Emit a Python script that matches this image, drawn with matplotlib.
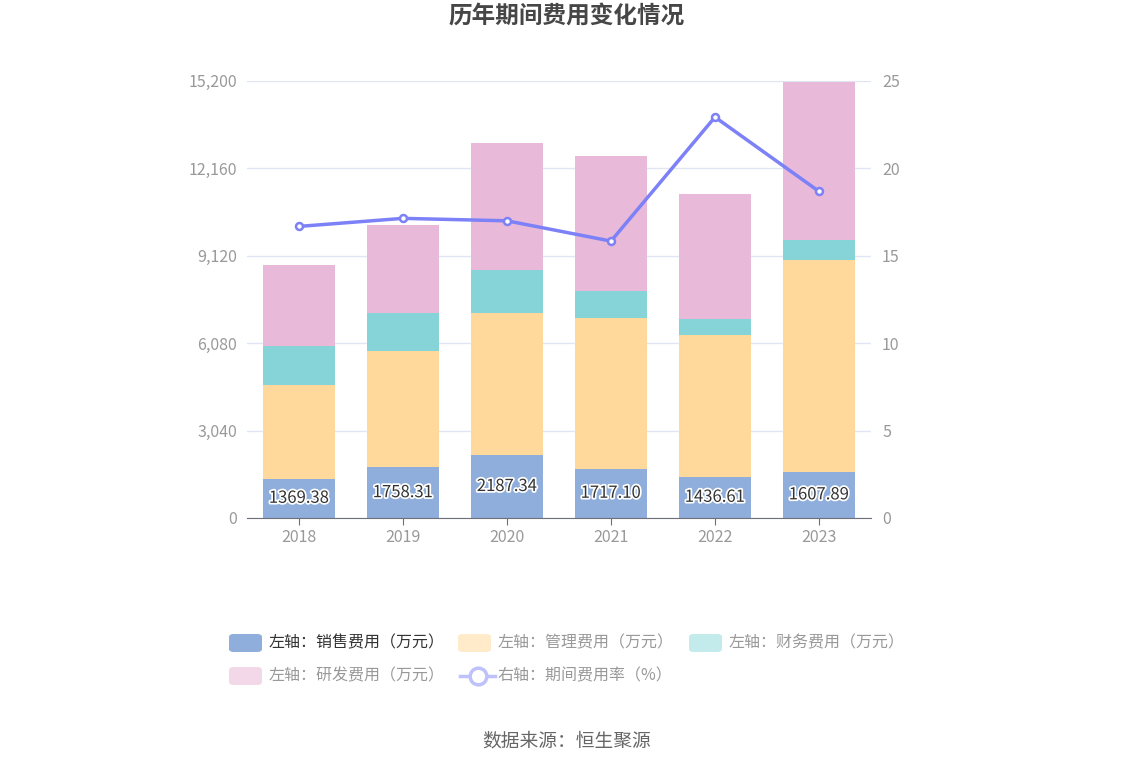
import matplotlib
matplotlib.use("Agg")
import matplotlib.pyplot as plt
import matplotlib.patheffects as pe
from matplotlib.patches import FancyBboxPatch
from matplotlib.lines import Line2D
import numpy as np

plt.rcParams['font.family'] = ['Noto Sans CJK SC', 'DejaVu Sans']

years = ['2018', '2019', '2020', '2021', '2022', '2023']
sales = [1369.38, 1758.31, 2187.34, 1717.10, 1436.61, 1607.89]
admin = [3270, 4050, 4950, 5230, 4920, 7345]
finance = [1330, 1330, 1470, 945, 570, 700]
rnd = [2825, 3055, 4440, 4700, 4340, 5500]
rate = [16.67, 17.13, 16.99, 15.83, 22.92, 18.67]

left_ticks = [0, 3040, 6080, 9120, 12160, 15200]
right_ticks = [0, 5, 10, 15, 20, 25]

c_sales = '#8FAEDC'
c_admin = '#FFD89B'
c_fin = '#87D4D8'
c_rnd = '#E8B9D9'
c_line = '#7D81F7'

fig = plt.figure(figsize=(11.34, 7.66), dpi=100)
ax = fig.add_axes([247 / 1134, 1 - 518 / 766, 624 / 1134, 437.3 / 766])

x = np.arange(len(years))
w = 0.69
b1 = np.array(sales)
b2 = b1 + np.array(admin)
b3 = b2 + np.array(finance)
ax.bar(x, sales, w, color=c_sales, zorder=2)
ax.bar(x, admin, w, bottom=b1, color=c_admin, zorder=2)
ax.bar(x, finance, w, bottom=b2, color=c_fin, zorder=2)
ax.bar(x, rnd, w, bottom=b3, color=c_rnd, zorder=2)

for i, v in enumerate(sales):
    ax.text(x[i], v / 2, f'{v:.2f}', ha='center', va='center', fontsize=12,
            color='#333333', zorder=4,
            path_effects=[pe.withStroke(linewidth=2.5, foreground='white')])

ax.set_xlim(-0.5, len(years) - 0.5)
ax.set_ylim(0, 15200)
ax.set_yticks(left_ticks)
ax.set_yticklabels([f'{t:,}' for t in left_ticks])
ax.set_xticks(x)
ax.set_xticklabels(years)
ax.grid(axis='y', color='#E0E6F1', linewidth=1, zorder=0)
for s in ['top', 'right', 'left']:
    ax.spines[s].set_visible(False)
ax.spines['bottom'].set_color('#6E7079')
ax.tick_params(axis='y', length=0, labelsize=11.5, labelcolor='#999999', pad=7)
ax.tick_params(axis='x', length=5, color='#6E7079', labelsize=11.5, labelcolor='#999999', pad=3)

ax2 = ax.twinx()
ax2.plot(x, rate, color=c_line, linewidth=2.5, marker='o', markersize=5,
         markerfacecolor='white', markeredgecolor=c_line, markeredgewidth=1.8, zorder=5)
ax2.set_ylim(0, 25)
ax2.set_yticks(right_ticks)
for s in ['top', 'right', 'left', 'bottom']:
    ax2.spines[s].set_visible(False)
ax2.tick_params(axis='y', length=0, labelsize=11.5, labelcolor='#999999', pad=8)

fig.text(567 / 1134, 1 - 17 / 766, '历年期间费用变化情况', ha='center', va='center',
         fontsize=17, fontweight='bold', color='#464646')
fig.text(567 / 1134, 1 - 741 / 766, '数据来源：恒生聚源', ha='center', va='center',
         fontsize=13.5, color='#666666')

# legend
items = [
    (229, 643, c_sales, '左轴：销售费用（万元）', '#333333'),
    (458, 643, '#FFEBC9', '左轴：管理费用（万元）', '#999999'),
    (689, 643, '#C3EBEC', '左轴：财务费用（万元）', '#999999'),
    (229, 676, '#F3D8EA', '左轴：研发费用（万元）', '#999999'),
]
for px, py, col, label, tcol in items:
    fig.patches.append(FancyBboxPatch((px / 1134, 1 - (py + 9) / 766), 33 / 1134, 18 / 766,
                                      boxstyle='round,pad=0,rounding_size=0.004',
                                      transform=fig.transFigure, facecolor=col,
                                      edgecolor='none'))
    fig.text((px + 40) / 1134, 1 - py / 766, label, ha='left', va='center',
             fontsize=11.5, color=tcol)
fig.lines.append(Line2D([460 / 1134, 495 / 1134], [1 - 676 / 766, 1 - 676 / 766],
                        transform=fig.transFigure, color='#BFC1FB', linewidth=2.5))
fig.lines.append(Line2D([477.5 / 1134], [1 - 676 / 766], transform=fig.transFigure,
                        marker='o', markersize=12, markerfacecolor='white',
                        markeredgecolor='#BFC1FB', markeredgewidth=2.5))
fig.text(498 / 1134, 1 - 676 / 766, '右轴：期间费用率（%）', ha='left', va='center',
         fontsize=11.5, color='#999999')

fig.savefig('out.png', dpi=100)
